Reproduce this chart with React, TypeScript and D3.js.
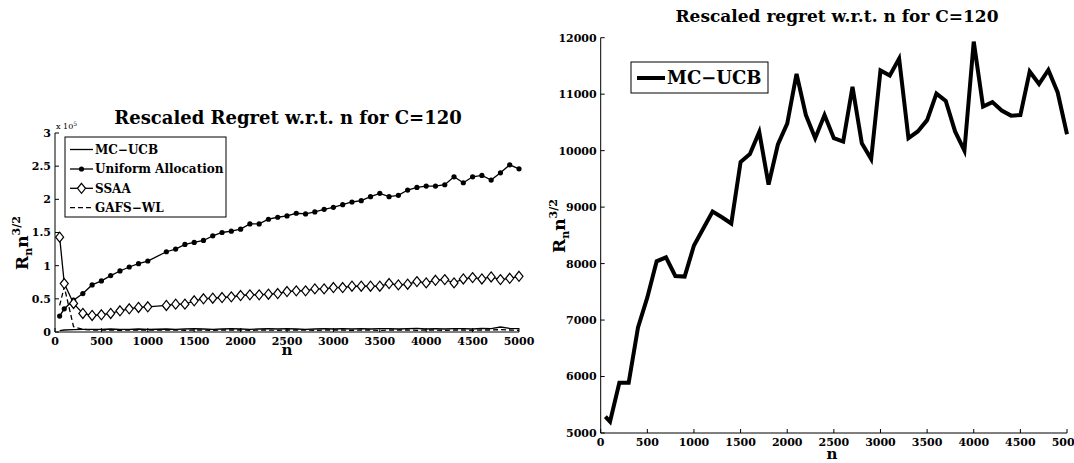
import React from 'react';
import * as d3 from 'd3';

// left panel: n values (no sample at 1100)
const leftN = [50, 100, 200, 300, 400, 500, 600, 700, 800, 900, 1000,
  1200, 1300, 1400, 1500, 1600, 1700, 1800, 1900, 2000,
  2100, 2200, 2300, 2400, 2500, 2600, 2700, 2800, 2900, 3000,
  3100, 3200, 3300, 3400, 3500, 3600, 3700, 3800, 3900, 4000,
  4100, 4200, 4300, 4400, 4500, 4600, 4700, 4800, 4900, 5000];

// values in units of 1e5
const uniformAlloc = [0.24, 0.35, 0.48, 0.58, 0.71, 0.77, 0.85, 0.92, 0.98, 1.03, 1.07,
  1.21, 1.25, 1.32, 1.35, 1.38, 1.45, 1.50, 1.52, 1.55,
  1.63, 1.63, 1.70, 1.73, 1.75, 1.79, 1.78, 1.81, 1.85, 1.88,
  1.92, 1.96, 1.98, 2.04, 2.09, 2.04, 2.06, 2.14, 2.18, 2.20,
  2.20, 2.22, 2.34, 2.25, 2.34, 2.36, 2.29, 2.40, 2.52, 2.46];

const ssaa = [1.43, 0.73, 0.43, 0.28, 0.25, 0.26, 0.28, 0.32, 0.35, 0.37, 0.38,
  0.40, 0.42, 0.42, 0.47, 0.50, 0.51, 0.52, 0.53, 0.55,
  0.56, 0.56, 0.57, 0.58, 0.61, 0.62, 0.62, 0.65, 0.65, 0.67,
  0.67, 0.69, 0.69, 0.69, 0.69, 0.73, 0.71, 0.72, 0.76, 0.74,
  0.78, 0.79, 0.74, 0.80, 0.82, 0.80, 0.83, 0.79, 0.81, 0.84];

const gafsWl = [0.40, 0.68, 0.08, 0.04, 0.03, 0.03, 0.03, 0.025, 0.03, 0.03, 0.03,
  0.03, 0.03, 0.025, 0.03, 0.03, 0.025, 0.03, 0.03, 0.03,
  0.025, 0.03, 0.03, 0.025, 0.03, 0.03, 0.03, 0.025, 0.03, 0.03,
  0.03, 0.025, 0.03, 0.03, 0.025, 0.03, 0.03, 0.03, 0.025, 0.03,
  0.03, 0.025, 0.03, 0.03, 0.025, 0.03, 0.03, 0.035, 0.03, 0.025];

const mcUcbLeft = [0.02, 0.03, 0.035, 0.04, 0.04, 0.04, 0.045, 0.04, 0.04, 0.045, 0.04,
  0.045, 0.04, 0.045, 0.05, 0.045, 0.04, 0.045, 0.05, 0.045,
  0.04, 0.045, 0.05, 0.045, 0.05, 0.045, 0.04, 0.045, 0.05, 0.045,
  0.05, 0.045, 0.05, 0.045, 0.05, 0.05, 0.045, 0.05, 0.055, 0.045,
  0.05, 0.045, 0.05, 0.05, 0.045, 0.055, 0.05, 0.075, 0.055, 0.05];

// right panel
const rightN = [50, 100, 200, 300, 400, 500, 600, 700, 800, 900, 1000,
  1100, 1200, 1300, 1400, 1500, 1600, 1700, 1800, 1900, 2000,
  2100, 2200, 2300, 2400, 2500, 2600, 2700, 2800, 2900, 3000,
  3100, 3200, 3300, 3400, 3500, 3600, 3700, 3800, 3900, 4000,
  4100, 4200, 4300, 4400, 4500, 4600, 4700, 4800, 4900, 5000];

const mcUcbRight = [5290, 5200, 5890, 5890, 6870, 7400, 8040, 8110, 7780, 7770, 8320,
  8620, 8920, 8820, 8710, 9800, 9940, 10330, 9400, 10110, 10480,
  11360, 10630, 10220, 10630, 10220, 10160, 11130, 10130, 9850, 11420,
  11330, 11630, 10220, 10340, 10540, 11010, 10880, 10340, 10000, 11930,
  10780, 10860, 10710, 10620, 10630, 11400, 11180, 11430, 11030, 10290];

const nTicks = [0, 500, 1000, 1500, 2000, 2500, 3000, 3500, 4000, 4500, 5000];
const leftYTicks = [0, 0.5, 1, 1.5, 2, 2.5, 3];
const rightYTicks = [5000, 6000, 7000, 8000, 9000, 10000, 11000, 12000];

const leftLegend = ['MC\u2212UCB', 'Uniform Allocation', 'SSAA', 'GAFS\u2212WL'];
const rightLegend = 'MC\u2212UCB';

const FONT = '"DejaVu Serif", serif';
const TICK = 4;

const xL = d3.scaleLinear().domain([0, 5000]).range([55, 519]);
const yL = d3.scaleLinear().domain([0, 3]).range([332, 133]);
const xR = d3.scaleLinear().domain([0, 5000]).range([600.7, 1067]);
const yR = d3.scaleLinear().domain([5000, 12000]).range([433, 37.7]);

const diamond = (x: number, y: number) => `M${x},${y - 5}L${x + 4},${y}L${x},${y + 5}L${x - 4},${y}Z`;

function Axes({ x, y, yTicks, labelDy }: { x: any; y: any; yTicks: number[]; labelDy: number }) {
  const [x0, x1] = x.range();
  const [y0, y1] = y.range();
  return (
    <g fontFamily={FONT} fontWeight="bold" fontSize={11} fill="#000">
      <line x1={x0} x2={x1} y1={y0} y2={y0} stroke="#000" />
      <line x1={x0} x2={x0} y1={y0} y2={y1} stroke="#000" />
      {nTicks.map(t => (
        <g key={'x' + t}>
          <line x1={x(t)} x2={x(t)} y1={y0} y2={y0 - TICK} stroke="#000" />
          <text x={x(t)} y={y0 + labelDy} textAnchor="middle">{t}</text>
        </g>
      ))}
      {yTicks.map(t => (
        <g key={'y' + t}>
          <line x1={x0} x2={x0 + TICK} y1={y(t)} y2={y(t)} stroke="#000" />
          <text x={x0 - 4} y={y(t)} dy="0.36em" textAnchor="end">{String(t)}</text>
        </g>
      ))}
    </g>
  );
}

function YLabel({ x, y }: { x: number; y: number }) {
  return (
    <text transform={`translate(${x},${y}) rotate(-90)`} fontFamily={FONT} fontWeight="bold" fontSize={17}>
      <tspan>R</tspan>
      <tspan fontSize={11} dy={4}>n</tspan>
      <tspan dy={-4}>n</tspan>
      <tspan fontSize={11} dy={-8}>3/2</tspan>
    </text>
  );
}

export default function App() {
  const lineL = (vals: number[]) =>
    d3.line<number>().x((_, i) => xL(leftN[i])).y(d => yL(d))(vals) || '';
  const lineR = d3.line<number>().x((_, i) => xR(rightN[i])).y(d => yR(d))(mcUcbRight) || '';

  const legY = [149.5, 169, 188.3, 207.6];

  return (
    <svg width={1074} height={463} style={{ position: 'absolute', left: 0, top: 0, background: '#fff' }}>
      {/* ---------- left panel ---------- */}
      <text x={288} y={124} textAnchor="middle" fontFamily={FONT} fontWeight="bold" fontSize={18}>
        Rescaled Regret w.r.t. n for C=120
      </text>
      <Axes x={xL} y={yL} yTicks={leftYTicks} labelDy={13} />
      <text x={56} y={129} fontFamily={FONT} fontSize={8}>
        x 10<tspan fontSize={6} dy={-3}>5</tspan>
      </text>
      <text x={287} y={355} textAnchor="middle" fontFamily={FONT} fontWeight="bold" fontSize={15}>n</text>
      <YLabel x={28} y={270} />

      <path d={lineL(mcUcbLeft)} fill="none" stroke="#000" strokeWidth={1.3} />
      <path d={lineL(gafsWl)} fill="none" stroke="#000" strokeWidth={1.3} strokeDasharray="5,3" />
      <path d={lineL(uniformAlloc)} fill="none" stroke="#000" strokeWidth={1.3} />
      {uniformAlloc.map((v, i) => (
        <circle key={'u' + i} cx={xL(leftN[i])} cy={yL(v)} r={2.6} fill="#000" />
      ))}
      <path d={lineL(ssaa)} fill="none" stroke="#000" strokeWidth={1.3} />
      {ssaa.map((v, i) => (
        <path key={'s' + i} d={diamond(xL(leftN[i]), yL(v))} fill="#fff" stroke="#000" strokeWidth={1.2} />
      ))}

      {/* left legend */}
      <rect x={65} y={137} width={161} height={80} fill="#fff" stroke="#000" strokeWidth={1} />
      <line x1={70} x2={93} y1={legY[0]} y2={legY[0]} stroke="#000" strokeWidth={1.3} />
      <line x1={70} x2={93} y1={legY[1]} y2={legY[1]} stroke="#000" strokeWidth={1.3} />
      <circle cx={81.5} cy={legY[1]} r={2.6} fill="#000" />
      <line x1={70} x2={93} y1={legY[2]} y2={legY[2]} stroke="#000" strokeWidth={1.3} />
      <path d={diamond(81.5, legY[2])} fill="#fff" stroke="#000" strokeWidth={1.2} />
      <line x1={70} x2={93} y1={legY[3]} y2={legY[3]} stroke="#000" strokeWidth={1.3} strokeDasharray="5,3" />
      {leftLegend.map((s, i) => (
        <text key={s} x={95} y={legY[i]} dy="0.36em" fontFamily={FONT} fontWeight="bold" fontSize={12}>{s}</text>
      ))}

      {/* ---------- right panel ---------- */}
      <text x={837} y={22} textAnchor="middle" fontFamily={FONT} fontWeight="bold" fontSize={17}>
        Rescaled regret w.r.t. n for C=120
      </text>
      <Axes x={xR} y={yR} yTicks={rightYTicks} labelDy={13} />
      <text x={832} y={459} textAnchor="middle" fontFamily={FONT} fontWeight="bold" fontSize={15}>n</text>
      <YLabel x={565} y={253} />
      <path d={lineR} fill="none" stroke="#000" strokeWidth={4} strokeLinejoin="miter" />

      <rect x={631} y={62} width={137} height={31} fill="#fff" stroke="#000" strokeWidth={1} />
      <line x1={637} x2={665} y1={78} y2={78} stroke="#000" strokeWidth={4} />
      <text x={667} y={78} dy="0.36em" fontFamily={FONT} fontWeight="bold" fontSize={18}>{rightLegend}</text>
    </svg>
  );
}
